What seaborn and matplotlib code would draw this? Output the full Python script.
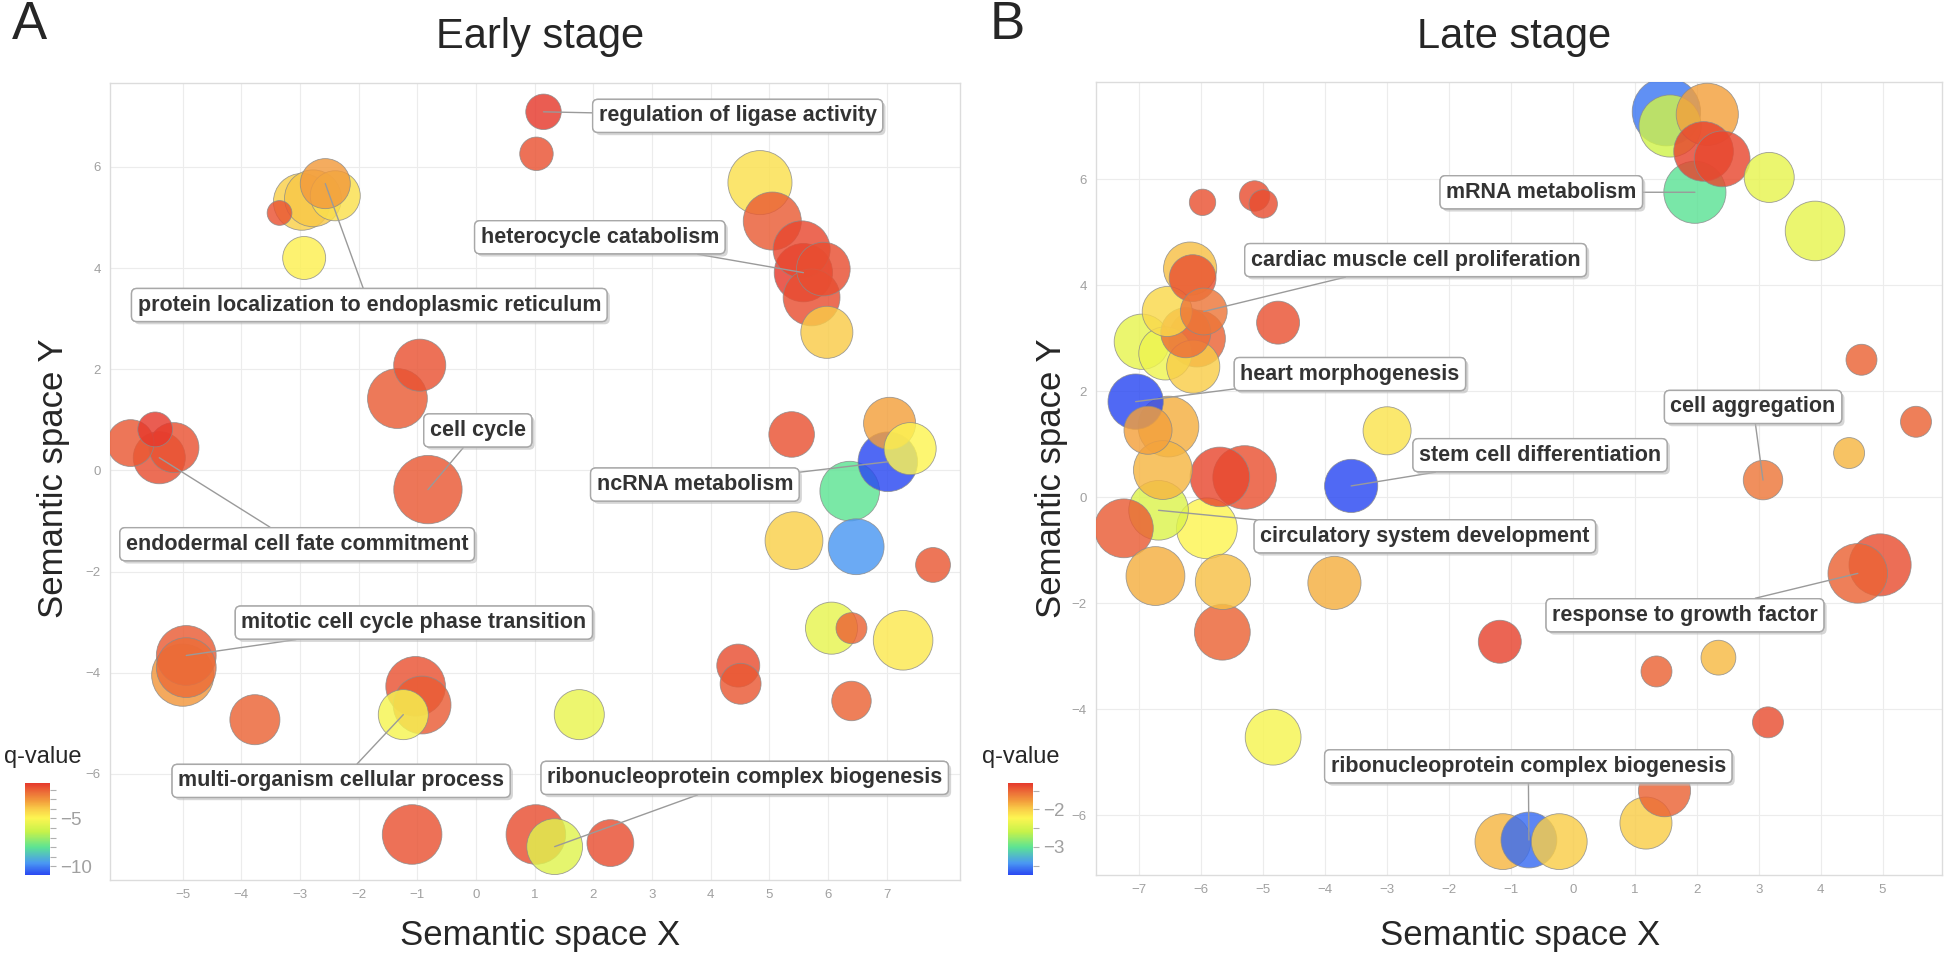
import matplotlib
matplotlib.use('Agg')
import matplotlib.pyplot as plt
import matplotlib.patheffects as pe
from matplotlib.colors import LinearSegmentedColormap, Normalize
from matplotlib.cm import ScalarMappable
from matplotlib.ticker import MultipleLocator
import numpy as np
import pandas as pd
import seaborn as sns

# -------------------------------------------------------------
# Data: semantic coordinates, log10 q-value and term size
# -------------------------------------------------------------
early_x = [1.15, 1.03, 4.84, 5.05, 5.55, 5.92, 5.58, 5.72, 5.98,
           -3.35, -2.97, -2.78, -2.57, -2.40, -2.93, -0.96, -1.34, -0.82,
           -5.89, -5.47, -5.40, -5.15, -4.94, -4.94, -5.00, -3.77,
           -1.03, -0.92, -1.24, 1.76, -1.09, 1.02, 1.34, 2.29,
           4.47, 4.51, 5.42, 6.48, 6.37, 7.02, 7.40, 7.05, 5.38,
           7.79, 6.06, 6.40, 7.28, 6.40]
early_y = [7.09, 6.26, 5.69, 4.93, 4.37, 3.98, 3.91, 3.42, 2.73,
           5.09, 5.31, 5.38, 5.67, 5.43, 4.20, 2.08, 1.42, -0.38,
           0.54, 0.81, 0.25, 0.45, -3.66, -3.90, -4.05, -4.93,
           -4.27, -4.64, -4.83, -4.83, -7.20, -7.20, -7.44, -7.37,
           -3.86, -4.22, -1.39, -1.51, -0.41, 0.17, 0.43, 0.93, 0.71,
           -1.87, -3.12, -3.12, -3.36, -4.56]
early_logq = [-1.30, -1.78, -4.47, -1.97, -1.59, -1.69, -1.30, -1.69, -3.99,
              -1.78, -4.08, -3.89, -3.12, -4.47, -4.85, -1.78, -1.97, -1.88,
              -1.88, -1.30, -1.69, -1.78, -1.97, -2.26, -3.03, -2.07,
              -1.78, -1.97, -5.14, -5.43, -1.78, -1.69, -5.72, -1.69,
              -1.69, -1.88, -4.08, -9.65, -8.00, -10.9, -4.95, -3.22, -1.78,
              -1.88, -5.52, -2.07, -4.66, -2.07]
early_size = [1.59, 1.47, 4.06, 3.42, 3.32, 3.00, 3.45, 3.30, 2.85,
              1.03, 3.30, 3.30, 2.67, 2.67, 2.10, 2.85, 3.60, 4.55,
              2.40, 1.55, 2.85, 2.67, 3.60, 3.60, 3.85, 2.67,
              3.58, 3.40, 2.67, 2.67, 3.58, 3.58, 3.20, 2.40,
              2.10, 1.95, 3.40, 3.20, 3.58, 3.58, 2.85, 2.85, 2.30,
              1.55, 2.85, 1.33, 3.58, 1.85]

early_labels = ["regulation of ligase activity", "heterocycle catabolism",
                "protein localization to endoplasmic reticulum", "cell cycle",
                "endodermal cell fate commitment", "ncRNA metabolism",
                "mitotic cell cycle phase transition", "multi-organism cellular process",
                "ribonucleoprotein complex biogenesis"]
early_label_term = [0, 6, 12, 17, 20, 39, 22, 28, 32]

late_x = [-5.98, -5.14, -5.00, -6.18, -6.14, -6.55, -6.07, -6.25, -5.96,
          -6.96, -6.58, -6.13, -4.76, -7.06, -6.86, -6.53, -6.62, -5.70,
          -5.30, -6.69, -5.91, -7.25, -6.74, -5.65, -3.85, -3.00, -3.58,
          -5.66, 1.51, 1.57, 2.17, 2.11, 2.41, 1.97, 3.17, 3.91,
          4.66, 5.54, 4.46, 3.07, 4.96, 4.60, -1.18, 1.35, 2.35, 3.15,
          -4.84, 1.48, 1.18, -0.22, -0.71, -1.13]
late_y = [5.56, 5.68, 5.53, 4.31, 4.13, 3.50, 2.99, 3.10, 3.50,
          2.93, 2.71, 2.46, 3.29, 1.80, 1.26, 1.33, 0.51, 0.38,
          0.37, -0.25, -0.59, -0.59, -1.49, -1.60, -1.62, 1.25, 0.21,
          -2.55, 7.27, 7.00, 7.22, 6.52, 6.38, 5.75, 6.03, 5.02,
          2.59, 1.42, 0.83, 0.32, -1.28, -1.44, -2.73, -3.29, -3.03, -4.25,
          -4.53, -5.54, -6.15, -6.50, -6.47, -6.50]
late_logq = [-1.42, -1.40, -1.40, -1.94, -1.42, -2.06, -1.50, -1.55, -1.59,
             -2.38, -2.33, -1.99, -1.42, -3.75, -1.79, -1.86, -1.89, -1.37,
             -1.42, -2.45, -2.23, -1.47, -1.86, -1.94, -1.86, -2.13, -3.75,
             -1.50, -3.55, -2.53, -1.79, -1.35, -1.37, -3.02, -2.38, -2.38,
             -1.50, -1.50, -1.89, -1.59, -1.40, -1.50, -1.35, -1.50, -1.91, -1.40,
             -2.28, -1.50, -1.99, -1.99, -3.60, -1.89]
late_size = [1.10, 1.30, 1.20, 2.95, 2.40, 2.67, 3.30, 2.67, 2.40,
             3.15, 2.95, 2.95, 2.10, 3.15, 2.50, 3.70, 3.50, 3.58,
             4.00, 3.58, 3.70, 3.50, 3.50, 3.15, 2.95, 2.50, 2.95,
             3.20, 4.55, 3.85, 3.85, 3.58, 3.20, 3.85, 2.67, 3.58,
             1.33, 1.33, 1.33, 1.85, 3.85, 3.58, 2.10, 1.33, 1.55, 1.33,
             3.20, 2.85, 2.85, 3.20, 3.20, 3.20]

late_labels = ["mRNA metabolism", "cardiac muscle cell proliferation",
               "heart morphogenesis", "stem cell differentiation",
               "circulatory system development", "cell aggregation",
               "response to growth factor", "ribonucleoprotein complex biogenesis"]
late_label_term = [33, 8, 13, 26, 19, 39, 41, 50]

# -------------------------------------------------------------
# Layout
# -------------------------------------------------------------
W, H = 1946, 956
early_label_pos = [(4.46, 7.01), (2.11, 4.61), (-1.82, 3.27), (0.03, 0.79),
                   (-3.05, -1.46), (3.73, -0.28), (-1.06, -3.01), (-2.30, -6.14),
                   (4.58, -6.08)]
late_label_pos = [(-0.51, 5.75), (-2.54, 4.47), (-3.60, 2.32), (-0.53, 0.79),
                  (-2.39, -0.74), (2.91, 1.70), (1.81, -2.23), (-0.72, -5.08)]

qcmap = LinearSegmentedColormap.from_list(
    "revigo",
    [(0.0, "#2a48f2"), (0.13, "#4a98f2"), (0.3, "#5ce394"), (0.47, "#c6f24a"),
     (0.62, "#fdf552"), (0.72, "#f9cc48"), (0.8, "#f3a03c"), (0.9, "#ec6e38"),
     (1.0, "#e6392c")])

sns.set_style("white")
plt.rcParams['font.family'] = ['Liberation Sans', 'DejaVu Sans']

fig = plt.figure(figsize=(W / 100, H / 100), dpi=100)


def box(x0, y0, x1, y1):
    return [x0 / W, 1 - y1 / H, (x1 - x0) / W, (y1 - y0) / H]


def draw_panel(ax, xs, ys, logq, size, qlim, xlim, ylim, xticks, labels, terms, pos):
    df = pd.DataFrame({"x": xs, "y": ys, "logq": logq, "size": size})
    df = df.sort_values("size", ascending=False)
    sns.scatterplot(data=df, x="x", y="y", hue="logq", size="size",
                    palette=qcmap, hue_norm=qlim, sizes=(300, 2690), size_norm=(1, 5),
                    alpha=0.82, edgecolor="#8a8a8a", linewidth=0.6, legend=False,
                    ax=ax, zorder=3)
    ax.set_xlim(*xlim)
    ax.set_ylim(*ylim)
    ax.set_xticks(xticks)
    ax.set_yticks(np.arange(-6, 7, 2))
    ax.grid(True, color="#ececec", lw=0.8, zorder=0)
    ax.set_axisbelow(True)
    for sp in ax.spines.values():
        sp.set_color("#dcdcdc")
        sp.set_linewidth(1)
    ax.tick_params(color="#c4c4c4", labelcolor="#a0a0a0", labelsize=9.5,
                   length=3, width=0.8, direction="out")
    ax.set_xlabel("")
    ax.set_ylabel("")
    for text, i, (tx, ty) in zip(labels, terms, pos):
        t = ax.annotate(text, xy=(xs[i], ys[i]), xytext=(tx, ty),
                        ha="center", va="center", fontsize=15.5, fontweight="bold",
                        color="#333333", zorder=6,
                        bbox=dict(boxstyle="round,pad=0.28,rounding_size=0.25",
                                  fc="white", ec="#a8a8a8", lw=1),
                        arrowprops=dict(arrowstyle="-", color="#9a9a9a", lw=1,
                                        shrinkA=0, shrinkB=0))
        t.get_bbox_patch().set_path_effects(
            [pe.withSimplePatchShadow(offset=(2, -2), shadow_rgbFace="#bbbbbb", alpha=0.6),
             pe.Normal()])


def draw_colorbar(cax, qlim, ticks, minor, text_x):
    sm = ScalarMappable(norm=Normalize(*qlim), cmap=qcmap)
    cb = fig.colorbar(sm, cax=cax, ticks=ticks)
    cb.outline.set_visible(False)
    cax.yaxis.set_minor_locator(MultipleLocator(minor))
    cax.tick_params(which="both", color="#b0b0b0", labelcolor="#a0a0a0",
                    labelsize=13.5, length=4, width=0.8)
    fig.text(text_x / W, 1 - 757 / H, "q-value", fontsize=17, va="center", ha="left")


ax_a = fig.add_axes(box(110, 83, 960, 880))
draw_panel(ax_a, early_x, early_y, early_logq, early_size, (-10.9, -1.3),
           (-6.24, 8.25), (-8.1, 7.66), range(-5, 8), early_labels,
           early_label_term, early_label_pos)
ax_b = fig.add_axes(box(1096, 82, 1942, 875))
draw_panel(ax_b, late_x, late_y, late_logq, late_size, (-3.75, -1.3),
           (-7.7, 5.96), (-7.13, 7.83), range(-7, 6), late_labels,
           late_label_term, late_label_pos)

draw_colorbar(fig.add_axes(box(25, 783, 50, 875)), (-10.9, -1.3), [-10, -5], 1, 4)
draw_colorbar(fig.add_axes(box(1008, 783, 1033, 875)), (-3.75, -1.3), [-3, -2], 0.5, 982)

# titles, panel letters and axis titles
fig.text(540 / W, 1 - 37 / H, "Early stage", fontsize=30, ha="center", va="center")
fig.text(1514 / W, 1 - 37 / H, "Late stage", fontsize=30, ha="center", va="center")
fig.text(12 / W, 1 - 25 / H, "A", fontsize=38, ha="left", va="center")
fig.text(990 / W, 1 - 25 / H, "B", fontsize=38, ha="left", va="center")
for cx in (540, 1520):
    fig.text(cx / W, 1 - 936 / H, "Semantic space X", fontsize=25, ha="center", va="center")
for cx, cy in ((53, 478), (1052, 478)):
    fig.text(cx / W, 1 - cy / H, "Semantic space Y", fontsize=25, ha="center",
             va="center", rotation=90)

fig.savefig("out.png", dpi=100)
